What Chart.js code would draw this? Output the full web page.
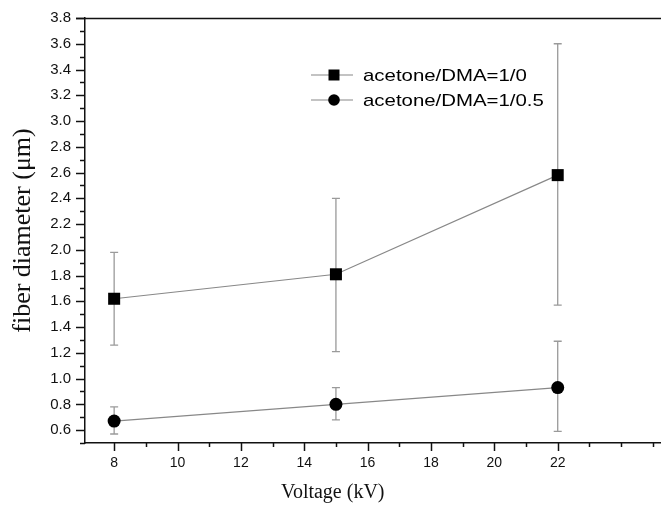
<!DOCTYPE html>
<html>
<head>
<meta charset="utf-8">
<script src="https://cdn.jsdelivr.net/npm/chart.js@4.4.0/dist/chart.umd.min.js"></script>
<style>
  body { margin: 0; background: #fff; }
  canvas { display: block; }
</style>
</head>
<body>
<canvas id="chart" width="661" height="513"></canvas>
<script>
// data
const voltage = [8, 15, 22];
const seriesNames = ['acetone/DMA=1/0', 'acetone/DMA=1/0.5'];

const diamA = [1.62, 1.81, 2.58];
const upperA = [1.98, 2.40, 3.60];
const lowerA = [1.26, 1.21, 1.57];

const diamB = [0.67, 0.80, 0.93];
const upperB = [0.78, 0.93, 1.29];
const lowerB = [0.57, 0.68, 0.59];

const yTicks = [0.6, 0.8, 1.0, 1.2, 1.4, 1.6, 1.8, 2.0, 2.2, 2.4, 2.6, 2.8, 3.0, 3.2, 3.4, 3.6, 3.8];
const xTicks = [8, 10, 12, 14, 16, 18, 20, 22];
const xMinor = [9, 11, 13, 15, 17, 19, 21, 23, 24, 25];

const toPoints = (ys) => voltage.map((v, i) => ({x: v, y: ys[i]}));
const isMajorY = (v) => yTicks.some(t => Math.abs(t - v) < 1e-6);
const isMajorX = (v) => xTicks.includes(v);

// error bars, tick marks, frame, legend
const extras = {
  id: 'extras',
  beforeDatasetsDraw(chart) {
    const {ctx} = chart;
    const xs = chart.scales.x, ys = chart.scales.y;
    const bars = [[upperA, lowerA], [upperB, lowerB]];
    ctx.save();
    ctx.strokeStyle = '#9a9a9a';
    ctx.lineWidth = 1.3;
    bars.forEach(([up, low]) => {
      voltage.forEach((v, i) => {
        const px = xs.getPixelForValue(v);
        const t = ys.getPixelForValue(up[i]);
        const b = ys.getPixelForValue(low[i]);
        ctx.beginPath();
        ctx.moveTo(px, t); ctx.lineTo(px, b);
        ctx.moveTo(px - 4, t); ctx.lineTo(px + 4, t);
        ctx.moveTo(px - 4, b); ctx.lineTo(px + 4, b);
        ctx.stroke();
      });
    });
    ctx.restore();
  },
  afterDraw(chart) {
    const {ctx, chartArea} = chart;
    const xs = chart.scales.x, ys = chart.scales.y;
    ctx.save();
    ctx.strokeStyle = '#111';
    ctx.lineWidth = 1.5;
    // y ticks
    for (let k = 5; k <= 38; k++) {
      const v = k / 10;
      const py = Math.round(ys.getPixelForValue(v)) + 0.5;
      const len = isMajorY(v) ? 9 : 5;
      ctx.beginPath();
      ctx.moveTo(chartArea.left - len, py);
      ctx.lineTo(chartArea.left, py);
      ctx.stroke();
    }
    // x ticks
    xTicks.concat(xMinor).forEach(v => {
      const px = Math.round(xs.getPixelForValue(v)) + 0.5;
      const len = isMajorX(v) ? 8 : 4;
      ctx.beginPath();
      ctx.moveTo(px, chartArea.bottom);
      ctx.lineTo(px, chartArea.bottom + len);
      ctx.stroke();
    });
    // top frame line
    ctx.beginPath();
    ctx.moveTo(chartArea.left - 9, chartArea.top + 0.5);
    ctx.lineTo(chart.width, chartArea.top + 0.5);
    ctx.stroke();

    // x title
    ctx.fillStyle = '#111';
    ctx.font = '20px "Liberation Serif"';
    ctx.textAlign = 'center';
    ctx.textBaseline = 'middle';
    ctx.fillText('Voltage (kV)', xs.getPixelForValue(14.9), 493);

    // legend
    const rows = [
      {y: 75, style: 'rect'},
      {y: 100, style: 'circle'}
    ];
    rows.forEach((r, i) => {
      ctx.strokeStyle = '#888';
      ctx.lineWidth = 1.2;
      ctx.beginPath();
      ctx.moveTo(311, r.y);
      ctx.lineTo(353, r.y);
      ctx.stroke();
      ctx.fillStyle = '#000';
      ctx.beginPath();
      if (r.style === 'rect') {
        ctx.rect(334 - 5.5, r.y - 5.5, 11, 11);
      } else {
        ctx.arc(334, r.y, 5.8, 0, Math.PI * 2);
      }
      ctx.fill();
      ctx.save();
      ctx.translate(363, r.y);
      ctx.scale(1.2, 1);
      ctx.font = '17px "Liberation Sans"';
      ctx.textAlign = 'left';
      ctx.textBaseline = 'middle';
      ctx.fillText(seriesNames[i], 0, 1);
      ctx.restore();
    });
    ctx.restore();
  }
};

new Chart(document.getElementById('chart'), {
  type: 'scatter',
  data: {
    datasets: [{
      label: seriesNames[0],
      data: toPoints(diamA),
      showLine: true,
      borderColor: '#888',
      borderWidth: 1.2,
      pointStyle: 'rect',
      pointRadius: 8.5,
      pointBackgroundColor: '#000',
      pointBorderColor: '#000',
      pointBorderWidth: 0
    }, {
      label: seriesNames[1],
      data: toPoints(diamB),
      showLine: true,
      borderColor: '#888',
      borderWidth: 1.2,
      pointStyle: 'circle',
      pointRadius: 6.5,
      pointBackgroundColor: '#000',
      pointBorderColor: '#000',
      pointBorderWidth: 0
    }]
  },
  options: {
    responsive: false,
    animation: false,
    layout: {autoPadding: false, padding: {top: 18, right: 0, left: 0, bottom: 0}},
    scales: {
      x: {
        type: 'linear',
        min: 7.08,
        max: 25.26,
        afterBuildTicks: (s) => { s.ticks = xTicks.map(v => ({value: v})); },
        afterFit: (s) => { s.height = 70; s.paddingLeft = 0; s.paddingRight = 0; },
        grid: {display: true, drawOnChartArea: false, drawTicks: true, tickLength: 8, color: 'rgba(0,0,0,0)'},
        border: {display: true, color: '#111', width: 1.5},
        ticks: {
          autoSkip: false,
          maxRotation: 0,
          padding: 4,
          color: '#111',
          font: {family: '"Liberation Sans"', size: 14},
          callback: (v) => String(v)
        }
      },
      y: {
        min: 0.5,
        max: 3.8,
        afterBuildTicks: (s) => { s.ticks = yTicks.map(v => ({value: v})); },
        afterFit: (s) => { s.width = 85; s.paddingTop = 0; s.paddingBottom = 0; },
        grid: {display: true, drawOnChartArea: false, drawTicks: true, tickLength: 9, color: 'rgba(0,0,0,0)'},
        border: {display: true, color: '#111', width: 1.5},
        ticks: {
          autoSkip: false,
          padding: 5,
          color: '#111',
          font: {family: '"Liberation Sans"', size: 15},
          callback: (v) => v.toFixed(1)
        },
        title: {
          display: true,
          text: 'fiber diameter (μm)',
          color: '#111',
          font: {family: '"Liberation Serif"', size: 26},
          padding: {top: 8, bottom: 0}
        }
      }
    },
    plugins: {
      legend: {display: false},
      tooltip: {enabled: false}
    }
  },
  plugins: [extras]
});
</script>
</body>
</html>
